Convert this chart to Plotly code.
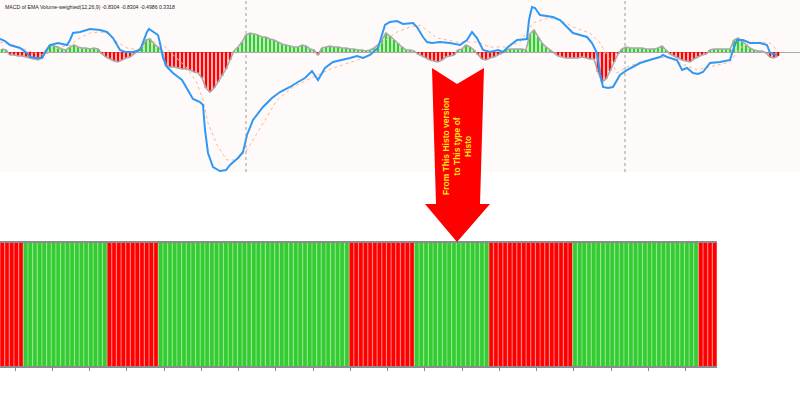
import plotly.graph_objects as go

W, H = 800, 410

title_text = "MACD of EMA Volume-weighted(12,26,9) -0.8304 -0.8304 -0.4986 0.3318"
arrow_text = "<b>From This Histo version<br>to This type of<br>Histo</b>"

# ---- top panel: MACD histogram (one bar every 4 time units) ----
hist_time = list(range(2, 780, 4))
hist_values = [
    0.03, 0.02, -0.03, -0.03, -0.04, -0.04, -0.05, -0.06, -0.07, -0.08,
    -0.06, 0.02, 0.07, 0.06, 0.05, 0.03, 0.02, 0.05, 0.07, 0.05,
    0.04, 0.04, 0.03, 0.04, 0.03, -0.02, -0.05, -0.07, -0.09, -0.10,
    -0.08, -0.06, -0.05, -0.02, 0.02, 0.05, 0.12, 0.13, 0.08, 0.05,
    0.01, -0.14, -0.15, -0.15, -0.16, -0.17, -0.17, -0.18, -0.20, -0.21,
    -0.26, -0.36, -0.40, -0.36, -0.30, -0.24, -0.17, -0.08, 0.01, 0.05,
    0.10, 0.17, 0.19, 0.18, 0.17, 0.15, 0.15, 0.13, 0.12, 0.10,
    0.08, 0.07, 0.06, 0.05, 0.05, 0.07, 0.06, 0.03, 0.02, -0.03,
    0.04, 0.05, 0.06, 0.05, 0.05, 0.04, 0.04, 0.03, 0.03, 0.02,
    0.02, 0.01, 0.02, 0.04, 0.07, 0.12, 0.19, 0.16, 0.12, 0.09,
    0.05, 0.02, 0.02, 0.01, -0.02, -0.04, -0.06, -0.08, -0.09, -0.10,
    -0.08, -0.05, -0.04, -0.03, 0.02, 0.03, 0.07, 0.05, 0.02, -0.03,
    -0.07, -0.08, -0.06, -0.05, -0.03, -0.01, 0.02, 0.03, 0.03, 0.03,
    0.03, 0.02, 0.18, 0.22, 0.15, 0.09, 0.05, 0.02, -0.01, -0.04,
    -0.05, -0.06, -0.06, -0.06, -0.06, -0.05, -0.06, -0.07, -0.07, -0.20,
    -0.30, -0.27, -0.19, -0.10, -0.02, 0.03, 0.05, 0.04, 0.04, 0.04,
    0.04, 0.03, 0.03, 0.03, 0.04, 0.06, 0.02, -0.02, -0.04, -0.06,
    -0.08, -0.09, -0.10, -0.07, -0.05, -0.03, -0.02, 0.02, 0.03, 0.03,
    0.03, 0.03, 0.03, 0.12, 0.14, 0.11, 0.07, 0.04, 0.02, 0.01,
    0.01, -0.01, -0.05, -0.06, -0.04,
]
hist_time = hist_time[:len(hist_values)]

# ---- top panel: MACD main line ----
macd_time = [0, 5, 10, 20, 27, 30, 37, 42, 45, 50, 58, 67, 70, 73, 80, 90, 100, 107, 113, 120,
             125, 133, 140, 147, 149, 153, 158, 160, 163, 167, 173, 182, 187, 193, 200, 203, 205, 208, 213, 220,
             226, 230, 238, 243, 247, 253, 263, 272, 280, 290, 298, 305, 312, 318, 325, 333, 350, 357, 363, 370,
             378, 383, 385, 390, 397, 403, 413, 417, 423, 427, 432, 440, 450, 460, 467, 472, 477, 483, 490, 498,
             503, 508, 517, 527, 529, 532, 535, 540, 553, 560, 567, 573, 587, 592, 597, 600, 603, 608, 613, 620,
             627, 640, 653, 660, 663, 667, 677, 682, 687, 693, 698, 703, 710, 720, 730, 733, 737, 743, 750, 760,
             767, 770, 777]
macd_values = [0.13, 0.11, 0.07, 0.04, -0.01, -0.05, -0.06, -0.06, -0.01, 0.07, 0.09, 0.07, 0.12, 0.19, 0.20, 0.23, 0.22, 0.20, 0.14, 0.02,
               0.00, 0.00, 0.02, 0.20, 0.23, 0.20, 0.17, 0.09, -0.06, -0.15, -0.21, -0.28, -0.36, -0.47, -0.50, -0.53, -0.78, -1.01, -1.15, -1.19,
               -1.18, -1.13, -1.06, -1.00, -0.83, -0.68, -0.55, -0.46, -0.40, -0.35, -0.30, -0.26, -0.19, -0.28, -0.16, -0.10, -0.06, -0.04, -0.06, -0.03,
               0.04, 0.19, 0.27, 0.30, 0.31, 0.28, 0.29, 0.25, 0.15, 0.10, 0.09, 0.10, 0.09, 0.07, 0.12, 0.20, 0.14, 0.02, 0.00, 0.02,
               0.00, 0.05, 0.12, 0.13, 0.32, 0.45, 0.44, 0.37, 0.35, 0.32, 0.25, 0.19, 0.15, 0.09, -0.01, -0.21, -0.35, -0.36, -0.35, -0.23,
               -0.18, -0.11, -0.07, -0.05, -0.03, -0.05, -0.08, -0.18, -0.16, -0.21, -0.22, -0.20, -0.11, -0.10, -0.08, 0.02, 0.12, 0.12, 0.09, 0.09,
               0.07, -0.01, -0.03]

# ---- top panel: signal line ----
signal_time = [0, 13, 27, 40, 50, 60, 70, 80, 90, 100, 107, 117, 127, 140, 147, 153, 163, 177, 187, 197,
               203, 208, 217, 227, 237, 247, 257, 267, 277, 293, 307, 333, 367, 383, 397, 410, 420, 437, 457, 477,
               490, 507, 520, 533, 547, 560, 573, 590, 600, 610, 617, 627, 647, 667, 680, 697, 710, 730, 740, 753,
               770, 777]
signal_values = [0.10, 0.07, 0.02, -0.03, -0.01, 0.05, 0.07, 0.14, 0.19, 0.20, 0.19, 0.10, 0.04, 0.02, 0.07, 0.10, 0.07, -0.06, -0.16, -0.31,
                 -0.48, -0.71, -0.93, -1.08, -1.08, -0.98, -0.81, -0.65, -0.48, -0.35, -0.28, -0.16, -0.05, 0.10, 0.20, 0.25, 0.27, 0.14, 0.10, 0.10,
                 0.05, 0.05, 0.10, 0.29, 0.34, 0.32, 0.25, 0.19, 0.09, -0.08, -0.21, -0.15, -0.08, -0.05, -0.11, -0.18, -0.15, -0.10, 0.04, 0.10,
                 0.09, 0.02]

period_separators = [246, 625]

# ---- bottom panel: sign of histogram, as runs of (sign, number of bars) ----
sign_runs = [(-1, 5), (1, 18), (-1, 11), (1, 41), (-1, 14), (1, 16), (-1, 18), (1, 27), (-1, 4)]
bottom_signs = []
for s, n in sign_runs:
    bottom_signs += [s] * n
bottom_index = list(range(len(bottom_signs)))
bottom_tick_every = 8

GREEN, RED = "#33cc33", "#ff0000"
GREEN_L, RED_L = "#74dc6c", "#ff5c5c"

fig = go.Figure()

# top histogram
fig.add_trace(go.Bar(
    x=hist_time, y=hist_values, width=2.6,
    marker=dict(color=[GREEN if v >= 0 else RED for v in hist_values], line=dict(width=0)),
    xaxis="x", yaxis="y", hoverinfo="skip"))
fig.add_trace(go.Scatter(
    x=hist_time, y=hist_values, mode="lines",
    line=dict(color="#a9a9a9", width=1.6), xaxis="x", yaxis="y", hoverinfo="skip"))
fig.add_trace(go.Scatter(
    x=signal_time, y=signal_values, mode="lines",
    line=dict(color="#ffb48c", width=1, dash="dot"), xaxis="x", yaxis="y"))
fig.add_trace(go.Scatter(
    x=macd_time, y=macd_values, mode="lines",
    line=dict(color="#2f98f5", width=2), xaxis="x", yaxis="y"))

# bottom sign histogram
fig.add_trace(go.Bar(
    x=bottom_index, y=[1] * len(bottom_signs), width=1.0,
    marker=dict(color=[GREEN_L if s > 0 else RED_L for s in bottom_signs], line=dict(width=0)),
    xaxis="x2", yaxis="y2", hoverinfo="skip"))
fig.add_trace(go.Bar(
    x=bottom_index, y=[1] * len(bottom_signs), width=0.72,
    marker=dict(color=[GREEN if s > 0 else RED for s in bottom_signs], line=dict(width=0)),
    xaxis="x2", yaxis="y2", hoverinfo="skip"))

top_dom = [1 - 172 / H, 1]
bot_dom = [1 - 366 / H, 1 - 243 / H]

fig.update_layout(
    width=W, height=H, margin=dict(l=0, r=0, t=0, b=0),
    paper_bgcolor="white", plot_bgcolor="white",
    showlegend=False, barmode="overlay",
    xaxis=dict(domain=[0, 1], range=[0, 800], anchor="y", showgrid=False, zeroline=False,
               showticklabels=False, ticks="", showline=False),
    yaxis=dict(domain=top_dom, range=[-1.20, 0.52], anchor="x", showgrid=False,
               zeroline=True, zerolinecolor="#a9a9a9", zerolinewidth=1,
               showticklabels=False, ticks="", showline=True, linecolor="#8c8c8c", linewidth=1),
    xaxis2=dict(domain=[0, 717 / W], range=[-0.5, len(bottom_signs) - 0.5], anchor="y2",
                showgrid=False, zeroline=False, showticklabels=False,
                ticks="outside", ticklen=3, tickwidth=1, tickcolor="#8c8c8c",
                tickvals=[2.75 + bottom_tick_every * k for k in range(19)],
                showline=True, mirror=True, linecolor="#8c8c8c", linewidth=2),
    yaxis2=dict(domain=bot_dom, range=[0, 1], anchor="x2", showgrid=False, zeroline=False,
                showticklabels=False, ticks="", showline=False),
)

shapes = [dict(type="rect", xref="x domain", yref="y domain", x0=0, x1=1, y0=0, y1=1,
               fillcolor="#fffafa", line=dict(width=0), layer="below")]
for t in period_separators:
    shapes.append(dict(type="line", xref="x", yref="y domain", x0=t, x1=t, y0=0, y1=1,
                       line=dict(color="#9a9a9a", width=1, dash="dot"), layer="above"))


def px(x, y):
    return f"{x / W:.5f},{1 - y / H:.5f}"


arrow_pts = [(432, 68), (457, 84), (484, 68), (480, 204), (490, 204), (457, 242), (425, 204), (436, 204)]
path = "M " + " L ".join(px(x, y) for x, y in arrow_pts) + " Z"
shapes.append(dict(type="path", xref="paper", yref="paper", path=path,
                   fillcolor="#ff0000", line=dict(width=0), layer="above"))
fig.update_layout(shapes=shapes)

fig.add_annotation(x=3 / W, y=1 - 2 / H, xref="paper", yref="paper", xanchor="left", yanchor="top",
                   text=title_text, showarrow=False,
                   font=dict(family="Liberation Sans, Arial", size=5.2, color="#222222"))
fig.add_annotation(x=457 / W, y=1 - 147 / H, xref="paper", yref="paper", xanchor="center", yanchor="middle",
                   text=arrow_text, showarrow=False, textangle=-90, align="center",
                   font=dict(family="Liberation Sans, Arial", size=8.5, color="#ffe81a"))

fig.write_html("out.html", config={"displayModeBar": False},
               post_script="document.body.style.margin='0';document.body.style.padding='0';")
